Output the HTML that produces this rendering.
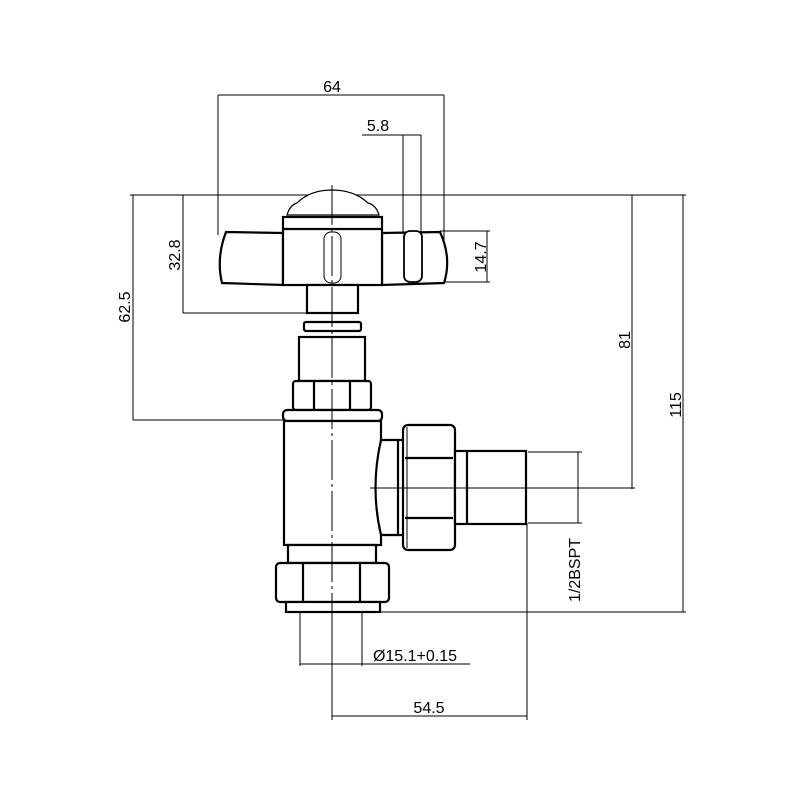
<!DOCTYPE html>
<html><head><style>html,body{margin:0;padding:0;background:#fff}svg{display:block}text{font-family:"Liberation Sans",Arial,sans-serif;font-size:16px;fill:#000}</style></head>
<body>
<svg width="800" height="800" viewBox="0 0 800 800" xmlns="http://www.w3.org/2000/svg">
<g stroke="#000" stroke-width="1" fill="none">
<line x1="218" y1="95" x2="444" y2="95"/>
<line x1="218" y1="95" x2="218" y2="235"/>
<line x1="444" y1="95" x2="444" y2="250"/>
<line x1="362" y1="135" x2="421" y2="135"/>
<line x1="403" y1="135" x2="403" y2="240"/>
<line x1="421" y1="135" x2="421" y2="250"/>
<line x1="130" y1="195" x2="686" y2="195"/>
<line x1="133" y1="195" x2="133" y2="420"/>
<line x1="133" y1="420" x2="285" y2="420"/>
<line x1="183" y1="195" x2="183" y2="313"/>
<line x1="183" y1="313" x2="307" y2="313"/>
<line x1="440" y1="231" x2="490" y2="231"/>
<line x1="430" y1="282" x2="490" y2="282"/>
<line x1="487" y1="231" x2="487" y2="282"/>
<line x1="632" y1="195" x2="632" y2="489"/>
<line x1="365" y1="488" x2="635" y2="488"/>
<line x1="683" y1="195" x2="683" y2="612"/>
<line x1="380" y1="612" x2="686" y2="612"/>
<line x1="528" y1="452" x2="582" y2="452"/>
<line x1="528" y1="523" x2="582" y2="523"/>
<line x1="578" y1="452" x2="578" y2="523"/>
<line x1="300" y1="612" x2="300" y2="666"/>
<line x1="362" y1="612" x2="362" y2="666"/>
<line x1="300" y1="664" x2="470" y2="664"/>
<line x1="332" y1="612" x2="332" y2="720"/>
<line x1="527" y1="523" x2="527" y2="720"/>
<line x1="332" y1="716" x2="527" y2="716"/>
</g>
<g stroke="#000" stroke-width="2.2" fill="#fff">
<path d="M287 215 Q290 205 297 203 Q310 190 332 190 Q354 190 368 203 Q376 205 379 215Z" stroke-width="1.2"/>
<path d="M283 233 L226 232 Q216 258 222 283 L283 285Z"/>
<path d="M382 233 L440 232 Q452 258 444 283 L382 285Z"/>
<rect x="404" y="231" width="18" height="51" rx="6" stroke-width="1.8"/>
<rect x="283" y="217" width="99" height="68"/>
<line x1="283" y1="229" x2="382" y2="229"/>
<rect x="324" y="232" width="17" height="51" rx="7" stroke-width="1"/>
<rect x="307" y="285" width="51" height="28"/>
<rect x="304" y="322" width="57" height="9" rx="2"/>
<rect x="299" y="337" width="66" height="44"/>
<rect x="293" y="381" width="78" height="29" rx="3"/>
<line x1="314" y1="381" x2="314" y2="410"/>
<line x1="350" y1="381" x2="350" y2="410"/>
<rect x="283" y="410" width="99" height="11" rx="4"/>
<rect x="284" y="421" width="97" height="124"/>
<path d="M381 440 L398 440 L398 535 L381 535 Q370 488 381 440Z"/>
<line x1="398" y1="440" x2="403" y2="440"/>
<line x1="398" y1="535" x2="403" y2="535"/>
<rect x="403" y="425" width="52" height="125" rx="5"/>
<line x1="405" y1="458" x2="453" y2="458"/>
<line x1="405" y1="518" x2="453" y2="518"/>
<line x1="407" y1="427" x2="407" y2="548" stroke-width="1"/>
<rect x="455" y="451" width="71" height="73"/>
<line x1="467" y1="451" x2="467" y2="524"/>
<rect x="288" y="545" width="88" height="18"/>
<rect x="276" y="563" width="113" height="39" rx="4"/>
<line x1="303" y1="563" x2="303" y2="602"/>
<line x1="360" y1="563" x2="360" y2="602"/>
<rect x="286" y="602" width="94" height="10"/>
</g>
<line x1="332" y1="185" x2="332" y2="612" stroke="#000" stroke-width="1" stroke-dasharray="40,4,3,4"/>
<line x1="370" y1="488" x2="527" y2="488" stroke="#000" stroke-width="1"/>
<text x="332" y="92" text-anchor="middle">64</text>
<text x="378" y="131" text-anchor="middle">5.8</text>
<text transform="translate(130,307) rotate(-90)" text-anchor="middle">62.5</text>
<text transform="translate(180,255) rotate(-90)" text-anchor="middle">32.8</text>
<text transform="translate(486,257) rotate(-90)" text-anchor="middle">14.7</text>
<text transform="translate(630,340) rotate(-90)" text-anchor="middle">81</text>
<text transform="translate(681,405) rotate(-90)" text-anchor="middle">115</text>
<text transform="translate(580,570) rotate(-90)" text-anchor="middle">1/2BSPT</text>
<text x="415" y="661" text-anchor="middle">Ø15.1+0.15</text>
<text x="429" y="713" text-anchor="middle">54.5</text>
</svg>
</body></html>
